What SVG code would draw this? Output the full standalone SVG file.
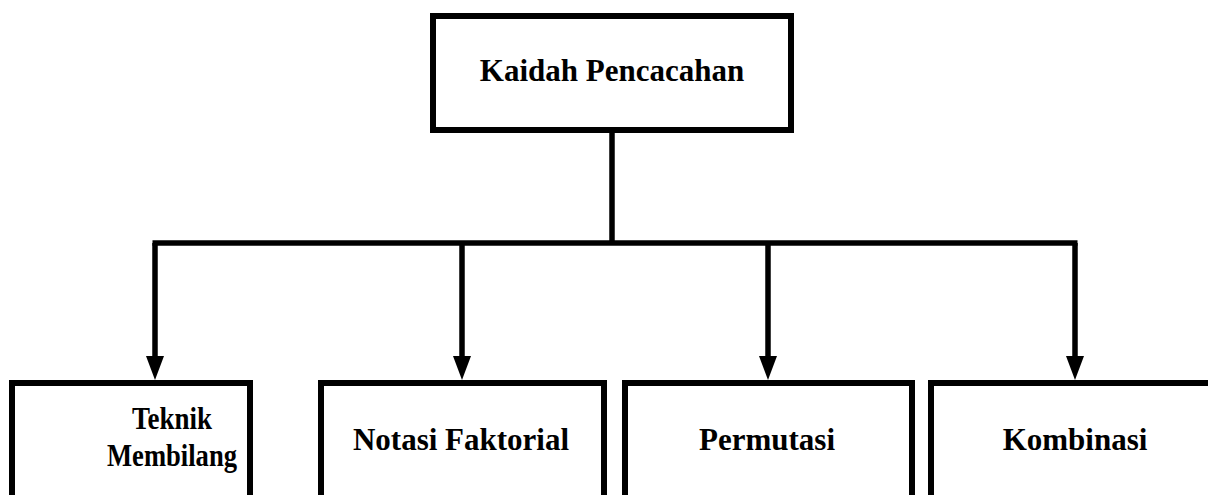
<svg xmlns="http://www.w3.org/2000/svg" width="1208" height="495" viewBox="0 0 1208 495">
<defs>
<style>
.box{fill:#fff;stroke:#000;stroke-width:6}
.lbl{font-weight:bold;font-size:31px;fill:#000;text-anchor:middle}
.ln{fill:none;stroke:#000;stroke-width:5.5}
</style>
</defs>
<rect width="1208" height="495" fill="#fff"/>
<g id="connectors">
<line class="ln" x1="612" y1="133" x2="612" y2="243"/>
<line class="ln" x1="152.5" y1="243" x2="1077.5" y2="243"/>
<path class="ln" d="M155,243 V356"/>
<path class="ln" d="M462,243 V356"/>
<path class="ln" d="M768,243 V356"/>
<path class="ln" d="M1075,243 V356"/>
<path d="M146,356 L164,356 L155,380 Z"/>
<path d="M453,356 L471,356 L462,380 Z"/>
<path d="M759,356 L777,356 L768,380 Z"/>
<path d="M1066,356 L1084,356 L1075,380 Z"/>
</g>
<g font-family="'Liberation Serif', 'DejaVu Serif', serif">
<g id="node-root">
<rect class="box" x="433" y="16" width="358" height="114"/>
<text class="lbl" x="612" y="81">Kaidah Pencacahan</text>
</g>
<g id="node-teknik">
<rect class="box" x="12" y="383" width="238" height="130"/>
<text class="lbl" x="172" y="429" textLength="80" lengthAdjust="spacingAndGlyphs">Teknik</text>
<text class="lbl" x="172" y="466" textLength="130" lengthAdjust="spacingAndGlyphs">Membilang</text>
</g>
<g id="node-notasi">
<rect class="box" x="321" y="383" width="283" height="130"/>
<text class="lbl" x="461" y="450">Notasi Faktorial</text>
</g>
<g id="node-permutasi">
<rect class="box" x="625" y="383" width="287" height="130"/>
<text class="lbl" x="767" y="450">Permutasi</text>
</g>
<g id="node-kombinasi">
<rect class="box" x="931" y="383" width="280" height="130"/>
<text class="lbl" x="1075" y="450">Kombinasi</text>
</g>
</g>
</svg>
